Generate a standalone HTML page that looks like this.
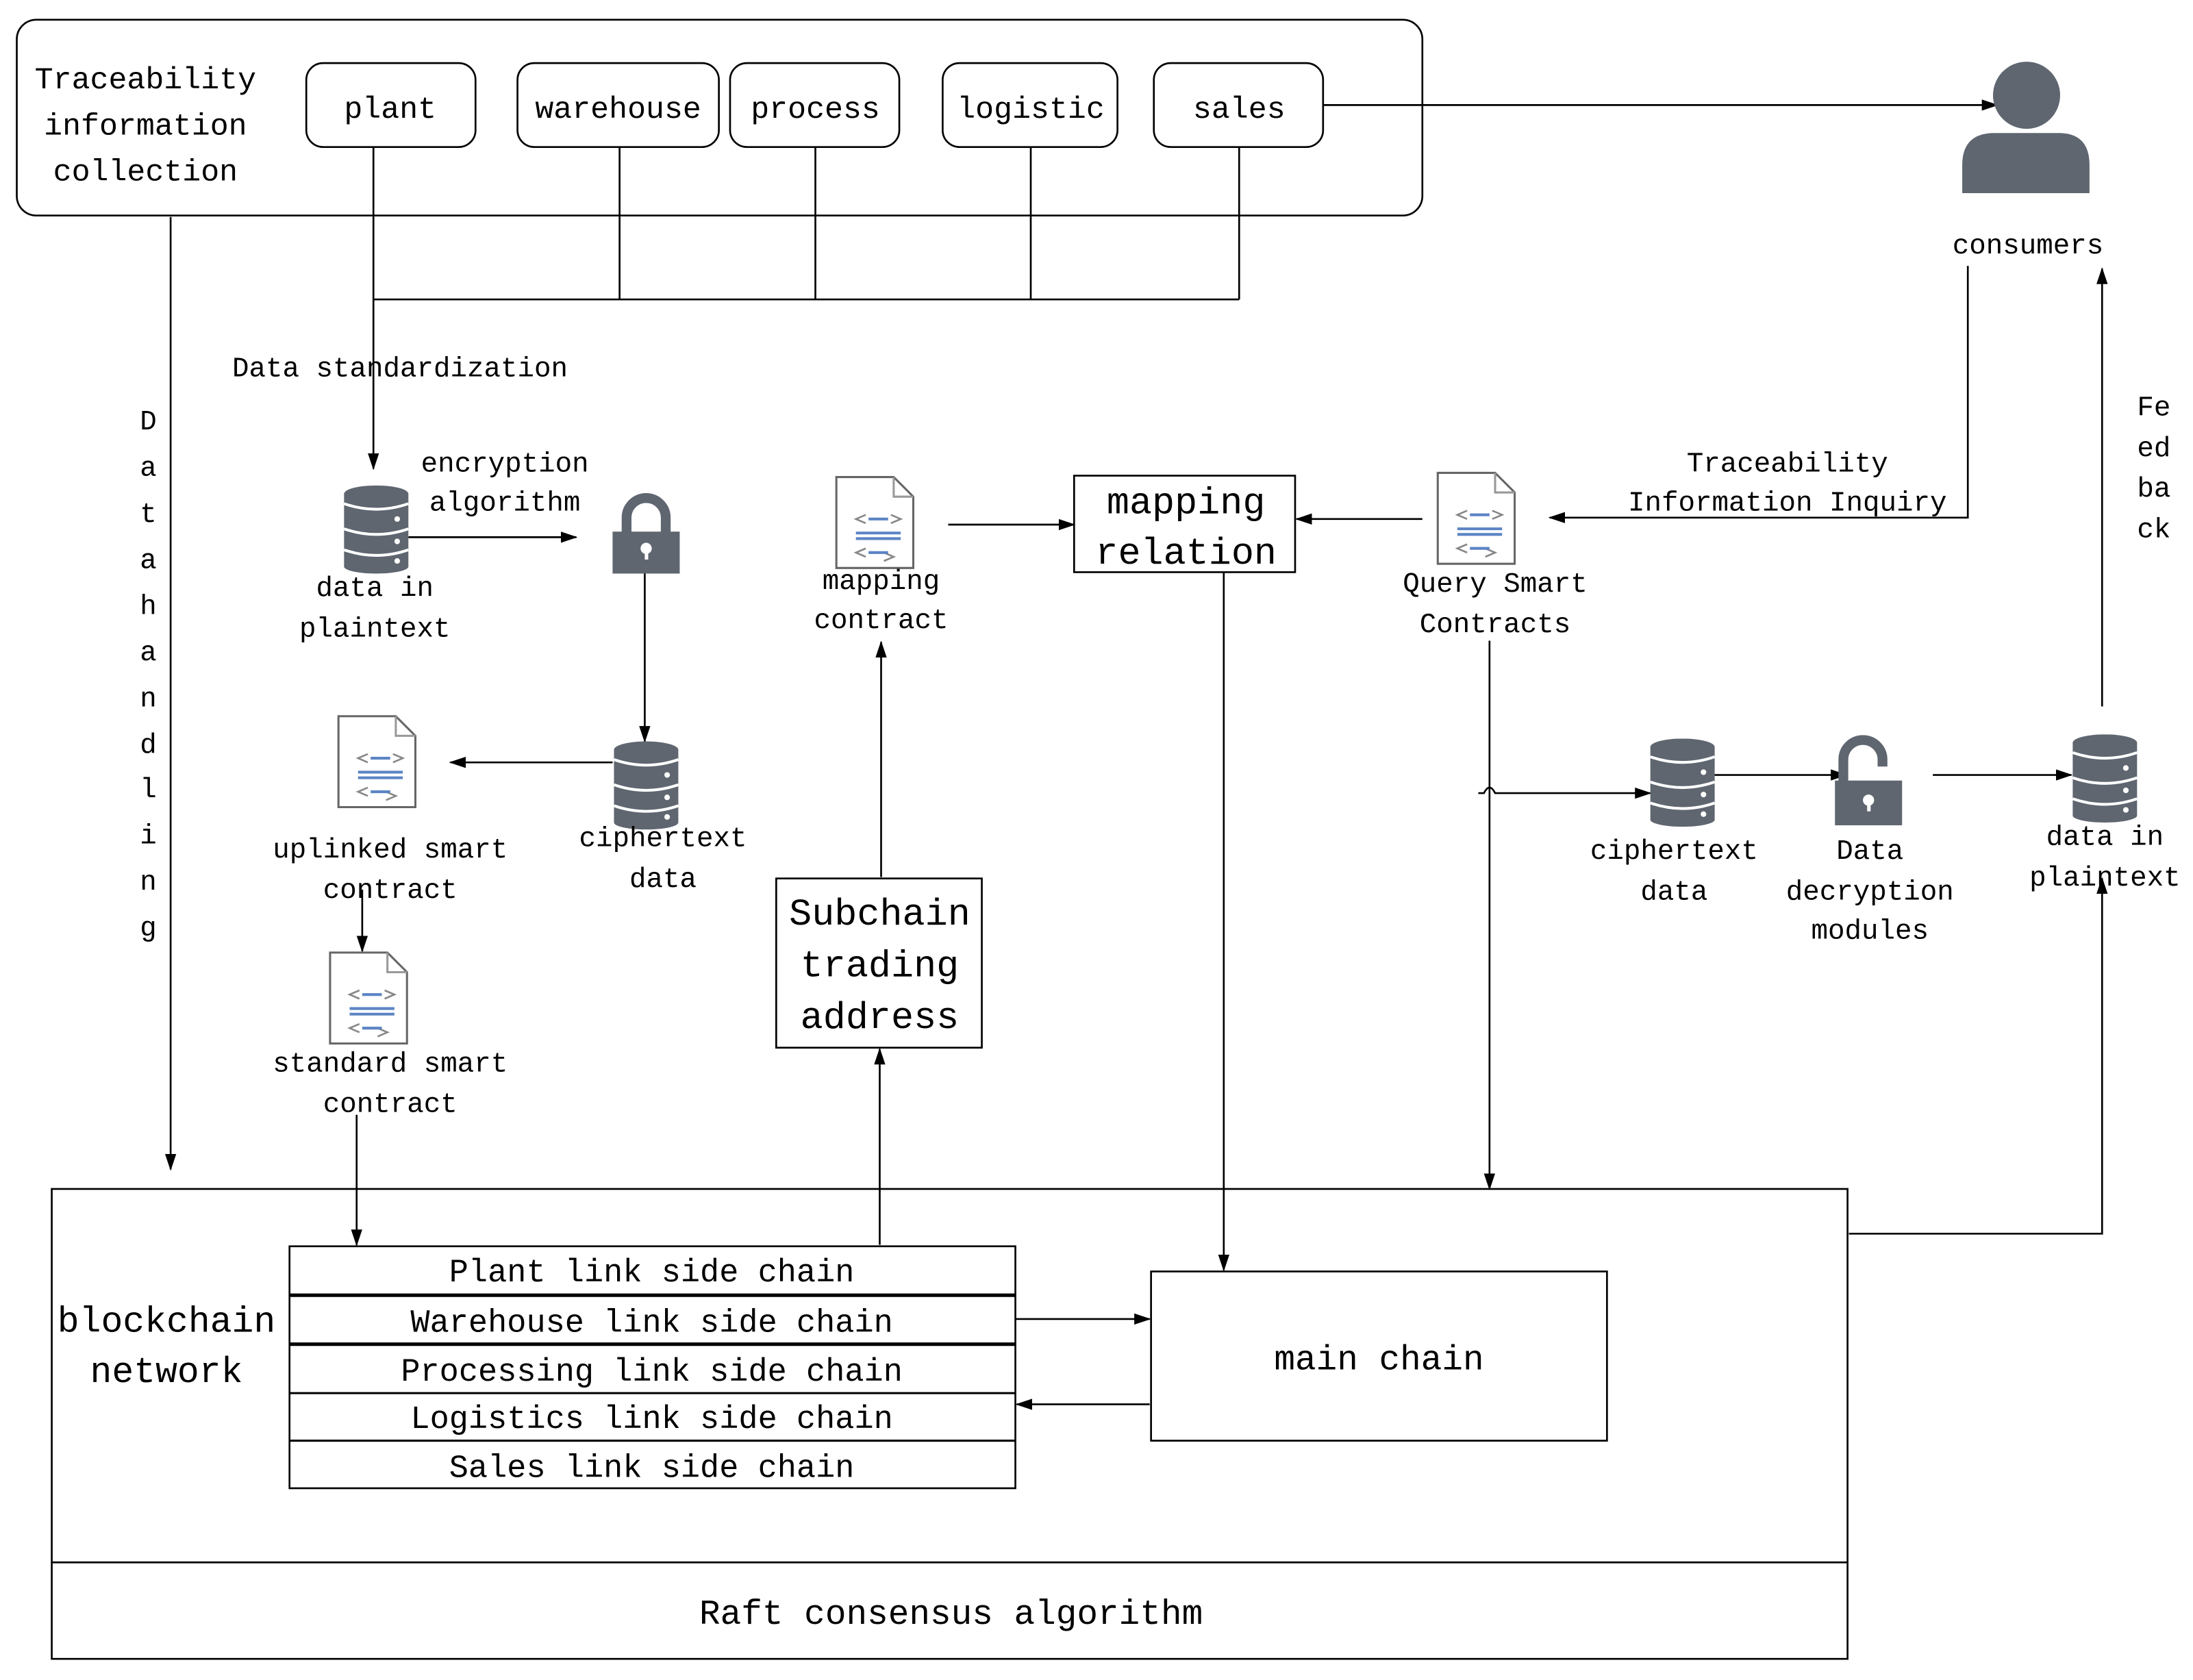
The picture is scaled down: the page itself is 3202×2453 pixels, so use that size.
<!DOCTYPE html>
<html><head><meta charset="utf-8"><style>
html,body{margin:0;padding:0;background:#fff}
svg{display:block}
text{font-family:"Liberation Mono","DejaVu Sans Mono",monospace;fill:#000}
</style></head><body>
<svg width="3202" height="2453" viewBox="0 0 1568 1201" xmlns="http://www.w3.org/2000/svg">
<defs>
<marker id="a" markerWidth="12" markerHeight="8" refX="11" refY="4" orient="auto" markerUnits="userSpaceOnUse">
<path d="M0,0 L12,4 L0,8 z" fill="#000"/></marker>
<g id="db">
<rect x="0" y="6" width="46" height="52" fill="#5f6670"/>
<ellipse cx="23" cy="6" rx="23" ry="6" fill="#5f6670"/>
<ellipse cx="23" cy="58" rx="23" ry="5" fill="#5f6670"/>
<path d="M0,13 Q23,21 46,13 M0,31 Q23,39 46,31 M0,46 Q23,54 46,46" stroke="#fff" stroke-width="2" fill="none"/>
<circle cx="38" cy="24" r="2" fill="#fff"/><circle cx="38" cy="40" r="2" fill="#fff"/><circle cx="38" cy="54" r="2" fill="#fff"/>
</g>
<g id="doc">
<path d="M1,1 H42 L56,15 V66 H1 Z" fill="#fff" stroke="#666" stroke-width="1.5"/>
<path d="M42,1 V15 H56" fill="none" stroke="#999" stroke-width="1.5"/>
<path d="M22,28 L15,31 L22,34 M40,28 L47,31 L40,34 M35,55 L42,58 L35,61" stroke="#888" stroke-width="1.3" fill="none"/>
<path d="M22,52 L15,55 L22,58" stroke="#888" stroke-width="1.3" fill="none"/>
<path d="M24,31 H38 M15,41 H47 M15,45 H47 M24,55 H38" stroke="#5b84c4" stroke-width="2"/>
</g>
</defs>

<!-- top container -->
<rect x="12" y="14" width="1005" height="140" rx="14" fill="none" stroke="#000" stroke-width="1.3"/>
<g font-size="22" text-anchor="middle">
<text x="104" y="63">Traceability</text>
<text x="104" y="96">information</text>
<text x="104" y="129">collection</text>
</g>
<g fill="none" stroke="#000" stroke-width="1.3">
<rect x="219" y="45" width="121" height="60" rx="12"/>
<rect x="370" y="45" width="144" height="60" rx="12"/>
<rect x="522" y="45" width="121" height="60" rx="12"/>
<rect x="674" y="45" width="125" height="60" rx="12"/>
<rect x="825" y="45" width="121" height="60" rx="12"/>
</g>
<g font-size="22" text-anchor="middle">
<text x="279" y="84">plant</text>
<text x="442" y="84">warehouse</text>
<text x="583" y="84">process</text>
<text x="737" y="84">logistic</text>
<text x="886" y="84">sales</text>
</g>

<g stroke="#000" stroke-width="1.3" fill="none">
<path d="M267,105 V335" marker-end="url(#a)"/>
<path d="M267,214 H886 M443,105 V214 M583,105 V214 M737,105 V214 M886,105 V214"/>
<path d="M946,75 H1428" marker-end="url(#a)"/>
<path d="M1407,190 V370 H1108" marker-end="url(#a)"/>
<path d="M1503,505 V192" marker-end="url(#a)"/>
<path d="M122,155 V836" marker-end="url(#a)"/>
<path d="M292,384 H412" marker-end="url(#a)"/>
<path d="M461,410 V530" marker-end="url(#a)"/>
<path d="M438,545 H322" marker-end="url(#a)"/>
<path d="M259,636 V680" marker-end="url(#a)"/>
<path d="M255,797 V890" marker-end="url(#a)"/>
<path d="M630,627 V459" marker-end="url(#a)"/>
<path d="M629,890 V750" marker-end="url(#a)"/>
<path d="M678,375 H768" marker-end="url(#a)"/>
<path d="M1017,371 H927" marker-end="url(#a)"/>
<path d="M1065,458 V850" marker-end="url(#a)"/>
<path d="M875,409 V908" marker-end="url(#a)"/>
<path d="M1057,567 H1061 Q1065,559 1069,567 H1180" marker-end="url(#a)"/>
<path d="M1225,554 H1320" marker-end="url(#a)"/>
<path d="M1382,554 H1481" marker-end="url(#a)"/>
<path d="M1322,882 H1503 V628" marker-end="url(#a)"/>
<path d="M726,943 H822" marker-end="url(#a)"/>
<path d="M822,1004 H727" marker-end="url(#a)"/>
</g>

<!-- consumer -->
<circle cx="1449" cy="68" r="24" fill="#5f6670"/>
<path d="M1403,138 V118 Q1403,95 1426,95 H1472 Q1494,95 1494,118 V138 Z" fill="#5f6670"/>
<text x="1450" y="181" font-size="20" text-anchor="middle">consumers</text>
<g font-size="20" text-anchor="middle">
<text x="1278" y="337">Traceability</text>
<text x="1278" y="365">Information Inquiry</text>
<text x="1540" y="297">Fe</text><text x="1540" y="326">ed</text><text x="1540" y="355">ba</text><text x="1540" y="384">ck</text>
</g>
<text x="166" y="269" font-size="20">Data standardization</text>
<g font-size="20" text-anchor="middle">
<text x="106" y="307">D</text><text x="106" y="340">a</text><text x="106" y="373">t</text><text x="106" y="406">a</text>
<text x="106" y="439">h</text><text x="106" y="472">a</text><text x="106" y="505">n</text><text x="106" y="538">d</text>
<text x="106" y="570">l</text><text x="106" y="603">i</text><text x="106" y="636">n</text><text x="106" y="669">g</text>
</g>

<use href="#db" x="246" y="347"/>
<use href="#db" x="439" y="530"/>
<use href="#db" x="1180" y="528"/>
<use href="#db" x="1482" y="525"/>
<use href="#doc" x="241" y="511"/>
<use href="#doc" x="235" y="680"/>
<use href="#doc" x="597" y="340"/>
<use href="#doc" x="1027" y="337"/>

<!-- lock -->
<path d="M448,382 V370 A14,14 0 0 1 476,370 V382" fill="none" stroke="#5f6670" stroke-width="7"/>
<rect x="438" y="380" width="48" height="30" fill="#5f6670"/>
<circle cx="462" cy="392" r="4" fill="#fff"/><rect x="461" y="393" width="2.5" height="7" fill="#fff"/>
<!-- unlocked -->
<path d="M1318,560 V543 A14,14 0 0 1 1346,543 V548" fill="none" stroke="#5f6670" stroke-width="7"/>
<rect x="1312" y="558" width="48" height="32" fill="#5f6670"/>
<circle cx="1336" cy="572" r="4" fill="#fff"/><rect x="1335" y="573" width="2.5" height="7" fill="#fff"/>

<g font-size="20" text-anchor="middle">
<text x="361" y="337">encryption</text><text x="361" y="365">algorithm</text>
<text x="268" y="426">data in</text><text x="268" y="455">plaintext</text>
<text x="474" y="605">ciphertext</text><text x="474" y="634">data</text>
<text x="279" y="613">uplinked smart</text><text x="279" y="642">contract</text>
<text x="279" y="766">standard smart</text><text x="279" y="795">contract</text>
<text x="630" y="421">mapping</text><text x="630" y="449">contract</text>
<text x="1069" y="423">Query Smart</text><text x="1069" y="452">Contracts</text>
<text x="1197" y="614">ciphertext</text><text x="1197" y="643">data</text>
<text x="1337" y="614">Data</text><text x="1337" y="643">decryption</text><text x="1337" y="671">modules</text>
<text x="1505" y="604">data in</text><text x="1505" y="633">plaintext</text>
</g>

<rect x="555" y="628" width="147" height="121" fill="none" stroke="#000" stroke-width="1.3"/>
<g font-size="27" text-anchor="middle">
<text x="629" y="661">Subchain</text><text x="629" y="698">trading</text><text x="629" y="735">address</text>
</g>
<rect x="768" y="340" width="158" height="69" fill="none" stroke="#000" stroke-width="1.3"/>
<g font-size="27" text-anchor="middle">
<text x="848" y="367">mapping</text><text x="848" y="403">relation</text>
</g>

<!-- blockchain -->
<rect x="37" y="850" width="1284" height="336" fill="none" stroke="#000" stroke-width="1.3"/>
<path d="M37,1117 H1321" stroke="#000" stroke-width="1.3"/>
<text x="680" y="1161" font-size="25" text-anchor="middle">Raft consensus algorithm</text>
<g font-size="26" text-anchor="middle">
<text x="119" y="952">blockchain</text><text x="119" y="988">network</text>
</g>
<rect x="207" y="891" width="519" height="173" fill="none" stroke="#000" stroke-width="1.3"/>
<path d="M207,926 H726 M207,961 H726" stroke="#000" stroke-width="2.5"/>
<path d="M207,996 H726 M207,1030 H726" stroke="#000" stroke-width="1.5"/>
<g font-size="23" text-anchor="middle">
<text x="466" y="916">Plant link side chain</text>
<text x="466" y="952">Warehouse link side chain</text>
<text x="466" y="987">Processing link side chain</text>
<text x="466" y="1021">Logistics link side chain</text>
<text x="466" y="1056">Sales link side chain</text>
</g>
<rect x="823" y="909" width="326" height="121" fill="none" stroke="#000" stroke-width="1.3"/>
<text x="986" y="979" font-size="25" text-anchor="middle">main chain</text>
</svg>
</body></html>
